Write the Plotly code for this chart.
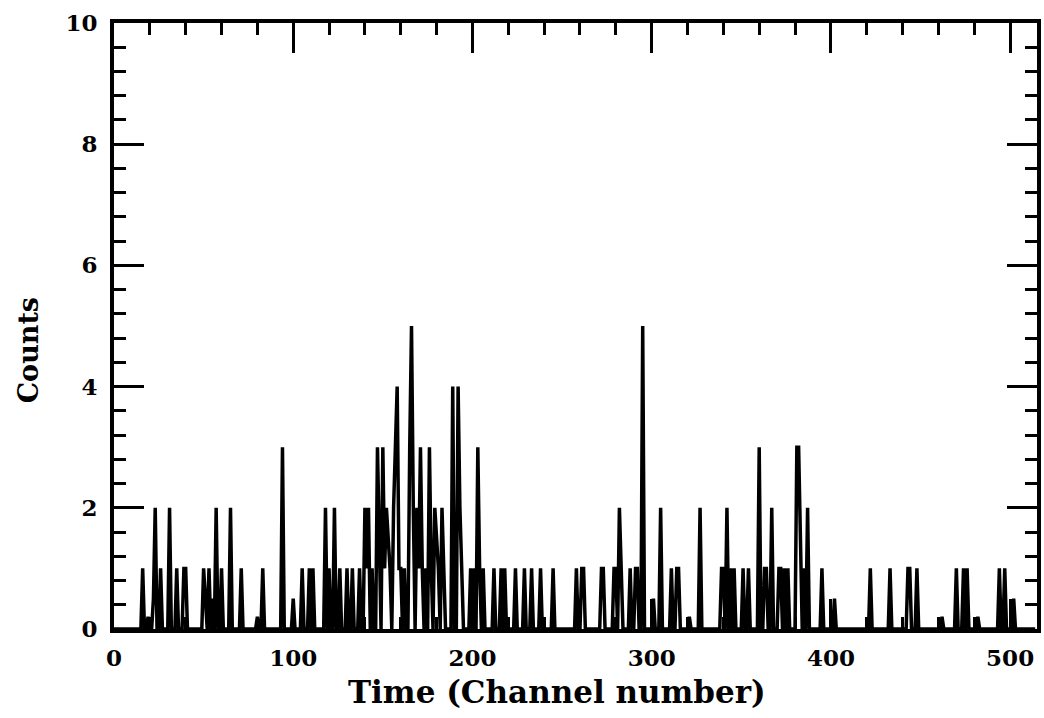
import plotly.graph_objects as go

# Non-zero channels (all other channels are 0)
channels = [16, 19, 22, 23, 26, 31, 35, 39, 40, 50, 51, 53, 55, 57, 60, 65, 71, 80, 83,
            94, 100, 105, 109, 111, 118, 120, 123, 126, 130, 133, 137, 140, 141, 142, 144,
            147, 148, 150, 151, 152, 153, 154, 156, 157, 158, 159, 160, 162, 165, 166, 167,
            169, 170, 171, 172, 174, 176, 177, 179, 180, 181, 183, 184, 189, 192, 193, 194,
            199, 201, 203, 204, 206, 212, 216, 218, 224, 229, 233, 238, 245, 258, 261, 262,
            272, 273, 279, 280, 282, 283, 288, 291, 292, 295, 301, 305, 311, 314, 315, 321,
            327, 339, 340, 342, 344, 346, 351, 354, 360, 363, 364, 367, 371, 372, 374, 376,
            381, 382, 383, 385, 387, 395, 402, 422, 433, 443, 444, 448, 462, 470, 474, 476,
            482, 494, 497, 502]
counts = [1, 0.2, 0.5, 2, 1, 2, 1, 1, 1, 1, 0.5, 1, 0.5, 2, 1, 2, 1, 0.2, 1,
          3, 0.5, 1, 1, 1, 2, 1, 2, 1, 1, 1, 1, 2, 1, 2, 1,
          3, 1.5, 3, 1, 2, 1.5, 1, 2, 3, 4, 1, 1, 1, 3, 5, 2,
          2, 1, 3, 1, 1, 3, 1, 2, 1.5, 1, 2, 1, 4, 4, 2, 1,
          1, 1, 3, 1, 1, 1, 1, 1, 1, 1, 1, 1, 1, 1, 1, 1,
          1, 1, 1, 1, 2, 1, 1, 1, 1, 5, 0.5, 2, 1, 1, 1, 0.2,
          2, 1, 1, 2, 1, 1, 1, 1, 3, 1, 1, 2, 1, 1, 1, 1,
          3, 3, 1.5, 1, 2, 1, 0.5, 1, 1, 1, 1, 1, 0.2, 1, 1, 1,
          0.2, 1, 1, 0.5]
n_channels = 515

x_ticks = [0, 100, 200, 300, 400, 500]
y_ticks = [0, 2, 4, 6, 8, 10]

xs = list(range(n_channels))
ys = [0.0] * n_channels
for c, v in zip(channels, counts):
    ys[c] = v

FONT = "DejaVu Serif"

fig = go.Figure()
fig.add_trace(go.Scatter(x=xs, y=ys, mode="lines",
                         line=dict(color="black", width=3.5), showlegend=False,
                         hoverinfo="skip"))

axis_common = dict(showline=True, linewidth=4, linecolor="black", mirror="allticks",
                   ticks="inside", tickwidth=3, tickcolor="black", ticklen=30,
                   showgrid=False, zeroline=False,
                   tickfont=dict(family=FONT, size=23, color="black", weight="bold"))

fig.update_xaxes(range=[0, n_channels], tickvals=x_ticks, ticktext=[str(v) for v in x_ticks],
                 minor=dict(dtick=20, tick0=0, ticks="inside", ticklen=12, tickwidth=3,
                            tickcolor="black", showgrid=False),
                 ticklabelstandoff=5, **axis_common)
fig.update_yaxes(range=[0, 10], tickvals=y_ticks, ticktext=[str(v) for v in y_ticks],
                 minor=dict(dtick=0.4, tick0=0, ticks="inside", ticklen=12, tickwidth=3,
                            tickcolor="black", showgrid=False),
                 ticklabelstandoff=8, **axis_common)

fig.update_layout(
    width=1044, height=718,
    margin=dict(l=114, r=3, t=23, b=89),
    plot_bgcolor="white", paper_bgcolor="white",
    annotations=[
        dict(text="Time (Channel number)", xref="paper", yref="paper",
             x=(559 - 114) / (1041 - 114), y=-(692 - 629) / (629 - 23),
             xanchor="center", yanchor="middle", showarrow=False,
             font=dict(family=FONT, size=31, color="black", weight="bold")),
        dict(text="Counts", xref="paper", yref="paper",
             x=-(114 - 28) / (1041 - 114), y=(629 - 350) / (629 - 23),
             xanchor="center", yanchor="middle", showarrow=False, textangle=-90,
             font=dict(family=FONT, size=27, color="black", weight="bold")),
    ],
)

fig.write_html("out.html")
